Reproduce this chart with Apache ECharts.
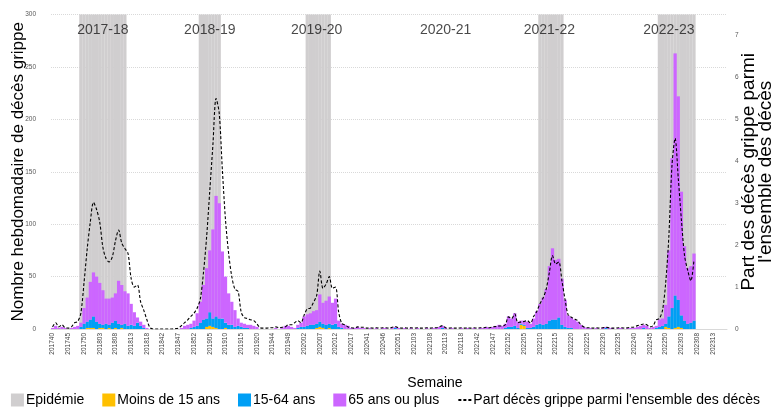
<!DOCTYPE html>
<html>
<head>
<meta charset="utf-8">
<script src="https://cdn.jsdelivr.net/npm/echarts@6/dist/echarts.min.js"></script>
<style>
html,body{margin:0;padding:0;background:#fff;}
#chart{width:771px;height:410px;}
</style>
</head>
<body>
<div id="chart"></div>
<script>
const categories = [
'201740','201741','201742','201743','201744','201745','201746','201747','201748','201749','201750','201751','201752',
'201801','201802','201803','201804','201805','201806','201807','201808','201809','201810','201811','201812','201813','201814','201815','201816','201817','201818','201819','201820',
'201840','201841','201842','201843','201844','201845','201846','201847','201848','201849','201850','201851','201852',
'201901','201902','201903','201904','201905','201906','201907','201908','201909','201910','201911','201912','201913','201914','201915','201916','201917','201918','201919','201920',
'201940','201941','201942','201943','201944','201945','201946','201947','201948','201949','201950','201951','201952',
'202001','202002','202003','202004','202005','202006','202007','202008','202009','202010','202011','202012','202013','202014','202015','202016','202017','202018','202019','202020',
'202040','202041','202042','202043','202044','202045','202046','202047','202048','202049','202050','202051','202052','202053',
'202101','202102','202103','202104','202105','202106','202107','202108','202109','202110','202111','202112','202113','202114','202115','202116','202117','202118','202119','202120',
'202140','202141','202142','202143','202144','202145','202146','202147','202148','202149','202150','202151','202152',
'202201','202202','202203','202204','202205','202206','202207','202208','202209','202210','202211','202212','202213','202214','202215','202216','202217','202218','202219','202220',
'202221','202222','202223','202224','202225','202226','202227','202228','202229','202230','202231','202232','202233','202234','202235','202236','202237','202238','202239','202240',
'202241','202242','202243','202244','202245','202246','202247','202248','202249','202250','202251','202252',
'202301','202302','202303','202304','202305','202306','202307','202308','202309','202310','202311','202312','202313','202314','202315','202316','202317'
];

const under15 = [
0,0,0,0,0,0,0,0,0,0, 0,1,1,1,0,1,1,0,1,0, 1,0,1,0,0,0,0,0,0,0, 0,0,0,0,0,0,0,0,0,0,
0,0,0,0,0,0,0,0,0,2, 3,2,1,0,0,1,0,0,0,0, 0,0,0,0,0,0,0,0,0,0, 0,0,0,0,0,0,0,0,0,0,
0,0,0,0,1,2,1,0,1,0, 0,0,0,0,0,0,0,0,0,0, 0,0,0,0,0,0,0,0,0,0, 0,0,0,0,0,0,0,0,0,0,
0,0,0,0,0,0,0,0,0,0, 0,0,0,0,0,0,0,0,0,0, 0,0,0,0,0,0,0,0,0,4, 3,0,0,0,0,0,0,0,0,0,
0,0,0,0,0,0,0,0,0,0, 0,0,0,0,0,0,0,0,0,0, 0,0,0,0,0,0,0,0,0,0, 0,0,0,0,0,2,1,0,1,2,
1,0,0,0,0
];
const age15to64 = [
0,0,0,0,0,0,0,0,0,2, 5,6,8,11,7,4,3,5,3,6, 7,5,3,5,3,4,3,6,3,1, 0,0,0,0,0,0,0,0,0,0,
0,0,0,0,1,2,3,6,9,8, 13,8,11,10,10,5,4,4,2,3, 2,1,1,0,0,0,0,0,0,0, 0,0,0,0,0,0,0,0,1,2,
2,3,4,4,4,5,4,4,4,4, 5,2,1,0,0,0,0,0,0,0, 0,0,0,0,0,0,0,0,0,1, 0,0,0,0,0,0,0,0,0,0,
0,0,0,0,1,0,0,0,0,0, 0,0,0,0,0,0,0,0,0,0, 0,0,0,0,1,2,2,3,1,1, 1,1,1,2,4,5,4,5,8,9,
9,11,4,2,1,1,0,0,0,0, 0,0,0,0,0,0,1,0,0,0, 0,0,0,0,0,0,0,0,1,0, 0,0,1,2,3,3,11,20,31,26,
12,8,5,6,8
];
const age65plus = [
1,3,1,2,1,0,1,2,3,4, 15,23,36,42,43,39,33,24,25,24, 26,41,38,31,31,20,13,5,4,3, 1,0,0,0,0,0,0,0,0,0,
0,1,3,4,4,6,12,20,33,48, 59,85,115,110,64,44,30,22,16,7, 4,4,3,4,3,2,0,0,0,0, 0,1,0,1,3,3,2,1,3,4,
10,11,11,13,13,26,20,23,26,21, 24,6,4,4,3,1,1,2,1,1, 0,1,0,1,0,1,1,0,1,1, 1,0,1,0,1,0,1,0,0,1,
0,1,1,2,2,1,0,1,0,0, 1,0,1,0,1,0,1,1,2,1, 2,3,4,3,4,10,8,12,6,3, 4,6,4,8,13,19,26,33,52,68,
57,56,44,26,12,10,9,7,4,2, 1,1,0,1,0,1,1,1,1,0, 1,1,0,1,1,1,2,3,3,3, 1,2,2,7,7,18,63,143,231,194,
118,71,53,54,64
];
const shareFluDeaths = [
0.05,0.15,0.05,0.1,0.03,0.02,0.05,0.15,0.18,0.38, 1.1,1.9,2.55,3.02,2.85,2.55,1.95,1.68,1.6,1.72,
2.1,2.36,2.05,1.92,1.8,1.2,1.0,1.05,0.65,0.45, 0.22,0.03,0,0,0,0,0,0,0,0.01,
0.02,0.08,0.15,0.22,0.3,0.38,0.5,0.72,1.35,2.2, 3.3,4.4,5.5,5.15,3.8,2.6,1.8,1.25,0.95,0.9,
0.4,0.27,0.25,0.22,0.2,0.12,0.03,0.02,0.02,0.03, 0.03,0.05,0.03,0.04,0.05,0.1,0.1,0.15,0.2,0.15,
0.33,0.48,0.5,0.64,0.8,1.38,0.97,1.07,1.25,0.97, 1.0,0.4,0.13,0.1,0.05,0.03,0.02,0.05,0.04,0.04,
0.02,0.03,0.02,0.03,0.02,0.03,0.03,0.02,0.04,0.06, 0.03,0.02,0.03,0.02,0.03,0.02,0.03,0.02,0.02,0.03,
0.02,0.03,0.03,0.05,0.08,0.03,0.02,0.03,0.02,0.02, 0.03,0.02,0.03,0.02,0.03,0.02,0.03,0.03,0.04,0.03,
0.05,0.06,0.07,0.07,0.1,0.29,0.25,0.36,0.15,0.17, 0.18,0.2,0.14,0.3,0.42,0.6,0.74,0.95,1.35,1.75,
1.55,1.6,1.15,0.7,0.33,0.28,0.24,0.2,0.1,0.05, 0.03,0.03,0.02,0.03,0.02,0.03,0.04,0.03,0.02,0.02,
0.03,0.03,0.02,0.03,0.04,0.05,0.08,0.1,0.12,0.1, 0.05,0.08,0.22,0.25,0.45,1.1,2.2,3.9,4.55,3.6,
2.6,1.75,1.4,1.15,1.65
];
const epidemicWeeks = [['201749','201811'],['201902','201908'],['202003','202010'],['202210','202217'],['202248','202307']];
const seasonNames = ['2017-18','2018-19','2019-20','2020-21','2021-22','2022-23'];
const seasonAnchors = ['201804','201905','202006','202113','202213','202251'];
const leftMax = 300;

const bandData = categories.map(function(c, i){
  for (const r of epidemicWeeks) {
    if (i >= categories.indexOf(r[0]) && i <= categories.indexOf(r[1])) return leftMax;
  }
  return '-';
});

const font = "'Liberation Sans', Arial, sans-serif";
const chart = echarts.init(document.getElementById('chart'), null, {renderer: 'canvas'});
chart.setOption({
  animation: false,
  textStyle: {fontFamily: font},
  grid: {left: 51, right: 44, top: 14.6, bottom: 81, containLabel: false, outerBoundsMode: 'none'},
  legend: {
    left: 'center', top: 393, padding: 0,
    itemWidth: 13, itemHeight: 13, itemGap: 18,
    textStyle: {fontSize: 14, color: '#000', fontFamily: font, padding: [0, 0, 0, -3]},
    data: [
      {name: 'Epidémie', icon: 'rect'},
      {name: 'Moins de 15 ans', icon: 'rect'},
      {name: '15-64 ans', icon: 'rect'},
      {name: '65 ans ou plus', icon: 'rect'},
      {name: "Part décès grippe parmi l'ensemble des décès", itemStyle: {opacity: 0}}
    ]
  },
  xAxis: {
    type: 'category',
    data: categories,
    boundaryGap: true,
    name: 'Semaine',
    nameLocation: 'middle',
    nameGap: 47,
    nameMoveOverlap: false,
    nameTextStyle: {fontSize: 14, color: '#000', padding: [0, 0, 0, 92]},
    axisLine: {lineStyle: {color: '#D9D9D9'}},
    axisTick: {show: false},
    axisLabel: {interval: 4, rotate: 90, fontSize: 6.5, color: '#404040', margin: 4}
  },
  yAxis: [
    {
      type: 'value', min: 0, max: 300, interval: 50,
      name: 'Nombre hebdomadaire de décès grippe',
      nameLocation: 'middle', nameGap: 24, nameRotate: 90, nameMoveOverlap: false,
      nameTextStyle: {fontSize: 17, color: '#000'},
      axisLine: {show: false}, axisTick: {show: false},
      axisLabel: {fontSize: 6.5, color: '#595959', margin: 15},
      splitLine: {lineStyle: {color: '#D9D9D9', type: 'dotted', width: 1}}
    },
    {
      type: 'value', min: 0, max: 7.5, interval: 1,
      name: "Part des décès grippe parmi\nl'ensemble des décès",
      nameLocation: 'middle', nameGap: 13, nameRotate: 90, nameMoveOverlap: false,
      nameTextStyle: {fontSize: 19, color: '#000', lineHeight: 17},
      axisLine: {show: false}, axisTick: {show: false},
      axisLabel: {fontSize: 6.5, color: '#595959', margin: 8, showMaxLabel: false},
      splitLine: {show: false}
    }
  ],
  series: [
    {
      name: 'Epidémie', type: 'bar', data: bandData, yAxisIndex: 0, stack: 'band',
      barGap: '-100%', barWidth: '104%', z: 1,
      itemStyle: {color: '#D0CECF'}, silent: true
    },
    {
      name: 'Moins de 15 ans', type: 'bar', data: under15, stack: 'age',
      barGap: '-100%', barWidth: '104%', z: 2, itemStyle: {color: '#FFC000'}
    },
    {
      name: '15-64 ans', type: 'bar', data: age15to64, stack: 'age',
      barGap: '-100%', barWidth: '104%', z: 2, itemStyle: {color: '#009FF5'}
    },
    {
      name: '65 ans ou plus', type: 'bar', data: age65plus, stack: 'age',
      barGap: '-100%', barWidth: '104%', z: 2, itemStyle: {color: '#CC66FF'}
    },
    {
      name: "Part décès grippe parmi l'ensemble des décès", type: 'line',
      data: shareFluDeaths, yAxisIndex: 1, symbol: 'none', smooth: 0.3, z: 5,
      itemStyle: {color: '#000'},
      lineStyle: {color: '#000', width: 1.1, type: [3, 2]}
    },
    {
      name: 'saisons', type: 'scatter', yAxisIndex: 0, symbolSize: 0, silent: true, z: 6,
      data: seasonAnchors.map(function(c){ return [c, 285]; }),
      label: {
        show: true, position: 'inside', fontSize: 14, color: '#1a1a1a',
        formatter: function(p){ return seasonNames[p.dataIndex]; }
      }
    }
  ]
});
</script>
</body>
</html>
